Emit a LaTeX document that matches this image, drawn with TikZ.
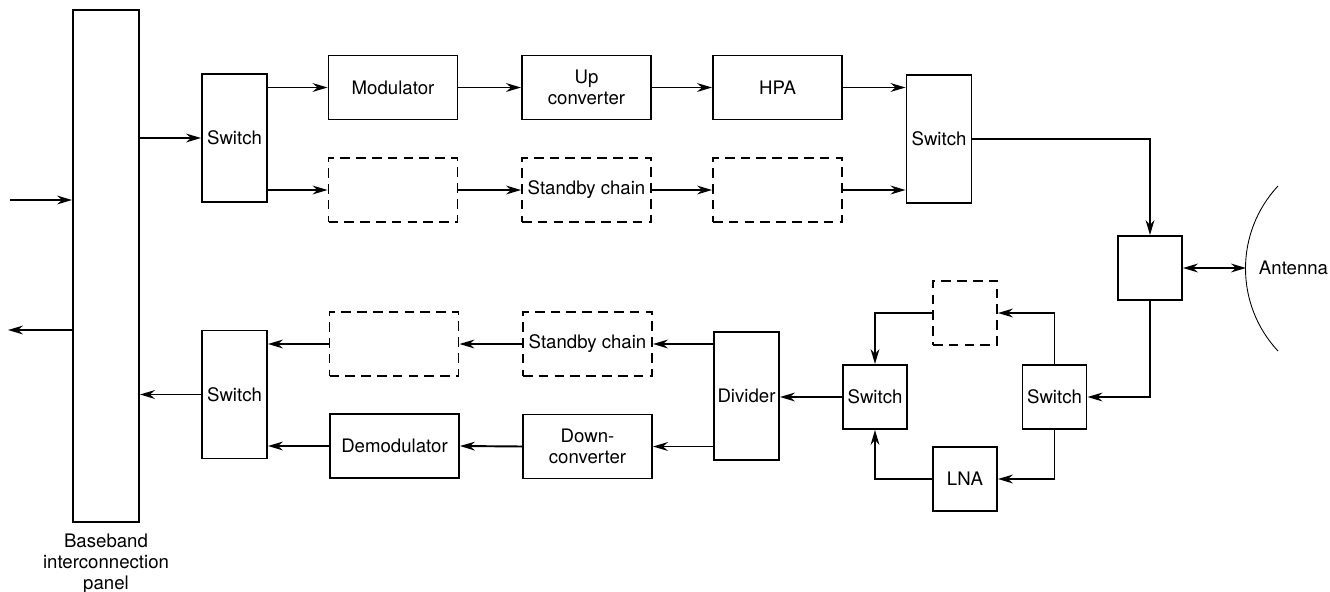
\documentclass[tikz,border=0pt]{standalone}
\usepackage{fontspec}
\setmainfont{TeX Gyre Heros}
\usetikzlibrary{arrows.meta}
\begin{document}
\begin{tikzpicture}[x=0.02cm,y=-0.02cm,line width=1.1pt,
  >={Stealth[length=8.5pt,width=5pt]},
  font=\fontsize{10.6}{12}\selectfont,
  blk/.style={draw,minimum width=2.58cm,minimum height=1.28cm,align=center,inner sep=1pt},
  sby/.style={blk,dash pattern=on 5.5pt off 3.5pt},
  sw/.style={draw,minimum width=1.3cm,minimum height=2.56cm,inner sep=1pt},
  sq/.style={draw,minimum width=1.28cm,minimum height=1.28cm,inner sep=1pt}]
\useasboundingbox (0,0) rectangle (1330,592);

% baseband panel
\node[sw,minimum width=1.32cm,minimum height=10.24cm] (pnl) at (106,266) {};
\node[align=center] (pnllbl) at (106,564) {Baseband\\interconnection\\panel};
\coordinate (bbin) at (10,200);
\coordinate (bbout) at (8,330);

% transmit side
\node[sw] (swtx) at (234.5,138) {Switch};
\node[blk] (mod) at (393,87.5) {Modulator};
\node[blk] (upc) at (586.5,87.5) {Up\\converter};
\node[blk] (hpa) at (777.5,87.5) {HPA};
\node[sby] (sbt1) at (393,190) {};
\node[sby] (sbt2) at (586.5,190) {Standby chain};
\node[sby] (sbt3) at (777.5,190) {};
\node[sw] (swout) at (939,139) {Switch};

% antenna
\node[sq] (dup) at (1150,268) {};
\coordinate (ant) at (1246,268);
\node[anchor=west,inner sep=0pt] (antlbl) at (1258,268) {Antenna};

% receive side
\node[sq] (swrx) at (1054.5,397) {Switch};
\node[sq,dash pattern=on 5.5pt off 3.5pt] (sbx) at (965,313) {};
\node[sq] (lna) at (965,479) {LNA};
\node[sq] (swlx) at (875,397) {Switch};
\node[sw] (div) at (746.5,396) {Divider};
\node[sby] (sbr2) at (587.5,344) {Standby chain};
\node[blk] (dnc) at (587.5,446.5) {Down-\\converter};
\node[sby] (sbr1) at (394,344) {};
\node[blk] (dem) at (394.5,446) {Demodulator};
\node[sw] (swrxb) at (234.5,394.5) {Switch};

\draw[->] (bbin) -- (bbin -| pnl.west);
\draw[->] (bbout -| pnl.west) -- (bbout);
\draw[->] (pnl.east |- swtx.west) -- (swtx.west);
\draw[->] (swtx.east |- mod.west) -- (mod.west);
\draw[->] (swtx.east |- sbt1.west) -- (sbt1.west);
\draw[->] (mod.east) -- (upc.west);
\draw[->] (upc.east) -- (hpa.west);
\draw[->] (sbt1.east) -- (sbt2.west);
\draw[->] (sbt2.east) -- (sbt3.west);
\draw[->] (hpa.east) -- (swout.west |- hpa.east);
\draw[->] (sbt3.east) -- (swout.west |- sbt3.east);
\draw[->] (swout.east) -| (dup.north);

\draw[<->] (dup.east) -- (ant);
\draw[line width=0.5pt] (1278,186) arc[start angle=137,end angle=223,radius=2.42cm];

\draw[->] (dup.south) |- (swrx.east);
\draw[->] (swrx.north) |- (sbx.east);
\draw[->] (sbx.west) -| (swlx.north);
\draw[->] (swrx.south) |- (lna.east);
\draw[->] (lna.west) -| (swlx.south);
\draw[->] (swlx.west) -- (div.east |- swlx.west);
\draw[->] (div.west |- sbr2.east) -- (sbr2.east);
\draw[->] (div.west |- dnc.east) -- (dnc.east);
\draw[->] (sbr2.west) -- (sbr1.east);
\draw[->] (dnc.west) -- (dem.east);
\draw[->] (sbr1.west) -- (swrxb.east |- sbr1.west);
\draw[->] (dem.west) -- (swrxb.east |- dem.west);
\draw[->] (swrxb.west) -- (pnl.east |- swrxb.west);
\end{tikzpicture}
\end{document}
